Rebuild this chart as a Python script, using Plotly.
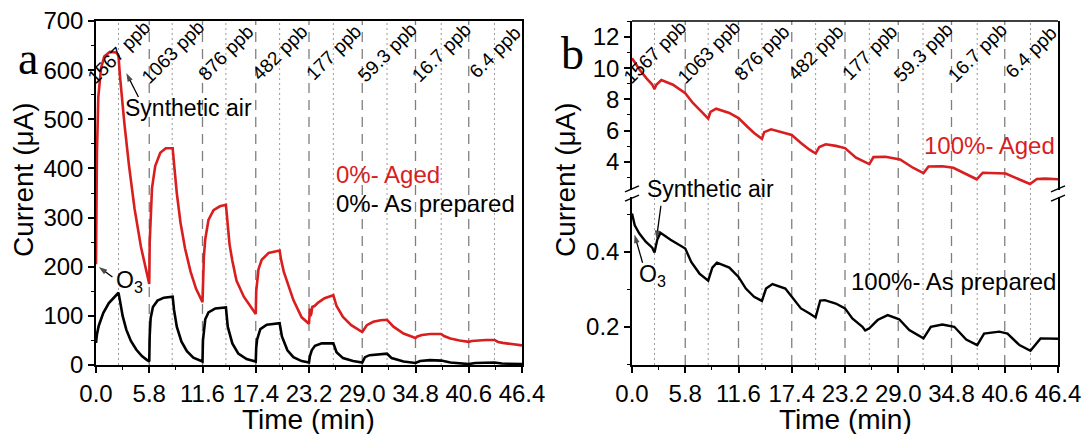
import plotly.graph_objects as go

# ---------------- data ----------------
time_ticks = [0.0, 5.8, 11.6, 17.4, 23.2, 29.0, 34.8, 40.6, 46.4]
o3_on = [5.8, 11.6, 17.4, 23.2, 29.0, 34.8, 40.6]            # dashed lines
air_on = [2.45, 8.3, 14.15, 20.0, 25.85, 31.7, 37.6, 43.4]    # dotted lines
conc_labels = ["1567 ppb", "1063 ppb", "876 ppb", "482 ppb", "177 ppb", "59.3 ppb", "16.7 ppb", "6.4 ppb"]

# panel a, 0% aged (red)
a_aged_t = [0.0, 0.03, 0.1, 0.25, 0.55, 0.9, 1.5, 2.2, 2.45,
            2.6, 2.8, 3.1, 3.6, 4.2, 4.9, 5.4, 5.8,
            5.85, 5.95, 6.1, 6.45, 7.0, 7.6, 8.35,
            8.5, 8.8, 9.2, 9.7, 10.3, 10.9, 11.6,
            11.65, 11.75, 11.9, 12.25, 12.8, 13.5, 14.15,
            14.3, 14.55, 14.85, 15.3, 16.1, 16.8, 17.4,
            17.45, 17.55, 17.7, 18.05, 18.8, 20.0,
            20.15, 20.45, 20.85, 21.5, 22.4, 23.2,
            23.25, 23.3, 23.35, 23.45, 23.55, 23.8, 24.2, 24.9, 25.85,
            26.2, 26.9, 27.8, 29.0,
            29.1, 29.5, 30.2, 31.0, 31.7,
            32.0, 32.4, 33.5, 34.8,
            35.0, 35.5, 36.4, 37.6,
            37.9, 38.6, 39.6, 40.6,
            40.9, 41.5, 42.5, 43.4,
            43.8, 44.3, 45.0, 45.8, 46.4]
a_aged_i = [205, 300, 430, 545, 604, 628, 637, 636, 630,
            590, 545, 490, 405, 318, 240, 196, 165,
            250, 305, 360, 405, 432, 441, 441,
            410, 350, 290, 237, 190, 155, 128,
            180, 220, 256, 295, 315, 323, 326,
            290, 245, 212, 172, 139, 119, 104,
            150, 175, 195, 214, 228, 233,
            215, 190, 166, 132, 97, 84,
            100, 115, 100, 104, 118, 120, 127, 136, 142,
            120, 98, 81, 67,
            70, 81, 88, 91, 92,
            85, 78, 64, 55,
            58, 61, 63, 63,
            59, 54, 50, 47,
            49, 50, 51, 51,
            47, 45, 43, 41, 40]

# panel a, 0% as prepared (black)
a_prep_t = [0.0, 0.1, 0.3, 0.8, 1.4, 2.0, 2.45,
            2.6, 2.9, 3.3, 3.8, 4.4, 5.0, 5.5, 5.8,
            5.85, 5.95, 6.2, 6.7, 7.4, 8.35,
            8.5, 8.8, 9.3, 9.9, 10.6, 11.6,
            11.65, 11.75, 11.9, 12.25, 13.0, 14.15,
            14.35, 14.85, 15.5, 16.4, 17.4,
            17.45, 17.55, 17.9, 18.6, 20.0,
            20.25, 20.85, 21.5, 22.4, 23.2,
            23.3, 23.5, 23.85, 24.6, 25.85,
            26.2, 26.9, 28.0, 29.0,
            29.3, 29.8, 30.8, 31.7,
            32.2, 33.5, 34.8,
            35.3, 36.4, 37.6,
            38.6, 40.6,
            41.3, 43.4,
            44.2, 46.4]
a_prep_i = [45, 62, 80, 106, 126, 139, 147,
            132, 100, 72, 49, 31, 18, 11, 7,
            60, 95, 118, 131, 137, 139,
            112, 78, 48, 28, 15, 7,
            50, 72, 93, 107, 115, 117,
            78, 44, 23, 12, 7,
            35, 52, 73, 82, 85,
            58, 30, 16, 8, 5,
            18, 30, 39, 44, 44,
            26, 14, 8, 5,
            16, 20, 22, 23,
            14, 7, 4,
            8, 10, 9,
            5, 2,
            4, 5,
            3, 2]

# panel b, 100% aged (red, upper segment)
b_aged_t = [0.0, 0.4, 0.83, 1.56, 2.2, 2.45, 2.65, 3.2, 4.46, 5.8,
            6.63, 7.54, 8.3, 8.55, 9.17, 10.6, 11.6,
            12.6, 13.3, 14.15, 14.4, 15.15, 16.3, 17.4,
            18.4, 19.3, 20.0, 20.4, 21.1, 22.2, 23.2,
            24.4, 25.85, 26.3, 27.6, 29.2,
            30.6, 31.75, 32.3, 33.8, 35.0,
            36.4, 37.55, 38.2, 40.7,
            42.2, 43.35, 44.1, 45.0, 46.4]
b_aged_i = [10.64, 10.25, 9.9, 9.36, 8.95, 8.66, 8.94, 9.24, 8.94, 8.4,
            7.77, 7.23, 6.77, 7.2, 7.4, 7.13, 6.8,
            6.23, 5.85, 5.47, 5.9, 6.08, 5.92, 5.72,
            5.21, 4.79, 4.53, 4.95, 5.12, 5.02, 4.88,
            4.26, 3.85, 4.3, 4.32, 4.15,
            3.62, 3.28, 3.7, 3.72, 3.62,
            3.2, 2.88, 3.3, 3.25,
            2.87, 2.58, 2.9, 2.92, 2.88]

# panel b, 100% as prepared (black, lower segment)
b_prep_t = [0.0, 0.3, 0.8, 1.5, 2.2, 2.45, 2.75, 3.1, 4.2, 5.8,
            6.45, 7.35, 8.3, 8.75, 9.25, 10.6, 11.6,
            12.4, 13.3, 14.15, 14.6, 15.3, 16.7, 17.4,
            18.4, 19.3, 20.0, 20.5, 21.0, 22.2, 23.2,
            24.0, 25.1, 25.4, 25.85, 26.75, 27.85, 29.1,
            30.2, 31.75, 32.55, 33.8, 35.1,
            36.4, 37.6, 38.35, 40.0, 40.9,
            42.2, 43.4, 44.0, 44.5, 46.4]
b_prep_i = [0.502, 0.471, 0.449, 0.427, 0.411, 0.398, 0.432, 0.451, 0.432, 0.409,
            0.373, 0.342, 0.323, 0.358, 0.371, 0.358, 0.333,
            0.302, 0.28, 0.269, 0.302, 0.314, 0.302, 0.28,
            0.249, 0.236, 0.225, 0.27, 0.271, 0.262, 0.249,
            0.222, 0.2, 0.19, 0.196, 0.218, 0.231, 0.22,
            0.191, 0.169, 0.2, 0.206, 0.2,
            0.166, 0.151, 0.182, 0.187, 0.182,
            0.151, 0.136, 0.155, 0.169, 0.168]

# ---------------- style ----------------
W, H = 1084, 434
ML, MR, MT, MB = 0, 0, 21, 69
PH = H - MT - MB
RED = "#d81e1e"
FONT = "Arial, Liberation Sans, sans-serif"
TICKF = 24
AX_A = [96 / W, 522 / W]
AX_B = [632 / W, 1058 / W]
LOW_DOM = [0.0, 0.488]
UP_DOM = [0.509, 1.0]
LOW_RANGE = [0.098, 0.546]
UP_RANGE = [2.2, 13.02]


def py(pix):
    """paper y for a pixel row"""
    return (H - MB - pix) / PH


def ya(pix):
    """panel a data value for a pixel row"""
    return (H - MB - pix) / PH * 700


def yup(pix):
    """panel b upper-axis value for a pixel row"""
    top, bot = MT, H - MB - UP_DOM[0] * PH
    return UP_RANGE[1] - (pix - top) / (bot - top) * (UP_RANGE[1] - UP_RANGE[0])


fig = go.Figure()
fig.add_trace(go.Scatter(x=a_aged_t, y=a_aged_i, mode="lines", line=dict(color=RED, width=2.6),
                         xaxis="x", yaxis="y", showlegend=False))
fig.add_trace(go.Scatter(x=a_prep_t, y=a_prep_i, mode="lines", line=dict(color="black", width=2.6),
                         xaxis="x", yaxis="y", showlegend=False))
fig.add_trace(go.Scatter(x=b_aged_t, y=b_aged_i, mode="lines", line=dict(color=RED, width=2.6),
                         xaxis="x2", yaxis="y3", showlegend=False))
fig.add_trace(go.Scatter(x=b_prep_t, y=b_prep_i, mode="lines", line=dict(color="black", width=2.4),
                         xaxis="x2", yaxis="y2", showlegend=False))


def arrow(x, y, ax, ay, xa, yax):
    """pointer arrow from (ax, ay) to (x, y)"""
    fig.add_trace(go.Scatter(x=[ax, x], y=[ay, y], mode="lines+markers", xaxis=xa, yaxis=yax,
                             line=dict(color="black", width=1.3), showlegend=False, hoverinfo="skip",
                             cliponaxis=False,
                             marker=dict(symbol="arrow", angleref="previous", size=[0, 9], color="black",
                                         line=dict(width=0))))


arrow(3.3, ya(73), 4.62, ya(97), "x", "y")
arrow(0.3, ya(267), 1.79, ya(277), "x", "y")
arrow(2.66, 0.434, 3.15, 0.523, "x2", "y2")
arrow(0.27, 0.446, 1.15, 0.371, "x2", "y2")

tick_text = ["%.1f" % v for v in time_ticks]
common_x = dict(range=[0, 46.4], tickmode="array", tickvals=time_ticks, ticktext=tick_text,
                showline=True, linecolor="black", linewidth=1.5, ticks="outside", ticklen=6,
                tickwidth=1.5, tickcolor="black", showgrid=False, zeroline=False, automargin=False,
                tickfont=dict(family=FONT, size=TICKF, color="black"),
                minor=dict(ticks="outside", ticklen=3, dtick=2.9, tick0=0, tickcolor="black", tickwidth=1.2))
common_y = dict(showline=True, linecolor="black", linewidth=1.5, ticks="outside", ticklen=6,
                tickwidth=1.5, tickcolor="black", showgrid=False, zeroline=False, automargin=False,
                tickfont=dict(family=FONT, size=TICKF, color="black"))

fig.update_layout(
    width=W, height=H, margin=dict(l=ML, r=MR, t=MT, b=MB, pad=0, autoexpand=False),
    paper_bgcolor="white", plot_bgcolor="white",
    xaxis=dict(domain=AX_A, anchor="y", mirror=True, **common_x),
    yaxis=dict(domain=[0, 1], anchor="x", range=[0, 700], dtick=100, mirror=True,
               minor=dict(ticks="outside", ticklen=3, dtick=50, tickcolor="black", tickwidth=1.2), **common_y),
    xaxis2=dict(domain=AX_B, anchor="y2", **common_x),
    yaxis2=dict(domain=LOW_DOM, anchor="x2", range=LOW_RANGE, tickmode="array", tickvals=[0.2, 0.4],
                ticktext=["0.2", "0.4"], mirror=True,
                minor=dict(ticks="outside", ticklen=3, dtick=0.1, tick0=0, tickcolor="black", tickwidth=1.2), **common_y),
    yaxis3=dict(domain=UP_DOM, anchor="x2", range=UP_RANGE, tickmode="array", tickvals=[4, 6, 8, 10, 12],
                mirror=True,
                minor=dict(ticks="outside", ticklen=3, dtick=1, tick0=0, tickcolor="black", tickwidth=1.2), **common_y),
)

shapes = []
for xr, yr in [("x", "y domain"), ("x2", "paper")]:
    for t in o3_on:
        shapes.append(dict(type="line", xref=xr, yref=yr, x0=t, x1=t, y0=0, y1=1, layer="below",
                           line=dict(color="#7f7f7f", width=1.3, dash="10px,7px")))
    for t in air_on:
        shapes.append(dict(type="line", xref=xr, yref=yr, x0=t, x1=t, y0=0, y1=1, layer="below",
                           line=dict(color="#9a9a9a", width=1, dash="2px,3px")))
# top border of panel b
shapes.append(dict(type="line", xref="x2 domain", yref="paper", x0=0, x1=1, y0=1, y1=1,
                   line=dict(color="black", width=1.5)))
# axis-break marks
for xa in [0, 1]:
    for yc in [LOW_DOM[1] - 0.003, UP_DOM[0] + 0.003]:
        shapes.append(dict(type="line", xref="x2 domain", yref="paper", xsizemode="pixel", ysizemode="pixel",
                           xanchor=xa, yanchor=yc, x0=-7, x1=7, y0=-3, y1=3,
                           line=dict(color="black", width=1.5)))
fig.update_layout(shapes=shapes)

ann = []


def txt(x, y, text, xref="paper", yref="paper", size=22, color="black", xanchor="center",
        yanchor="middle", angle=0, family=FONT, **kw):
    ann.append(dict(x=x, y=y, xref=xref, yref=yref, text=text, showarrow=False, textangle=angle,
                    xanchor=xanchor, yanchor=yanchor, font=dict(family=family, size=size, color=color), **kw))


# concentration labels
for t, lab in zip(air_on, conc_labels):
    txt(t, ya(52), lab, xref="x", yref="y", size=19, angle=-45)
    txt(t, yup(52), lab, xref="x2", yref="y3", size=19, angle=-45)
# panel letters
serif = "Liberation Serif, Times New Roman, serif"
txt(28 / W, py(59), "a", size=46, family=serif)
txt(572 / W, py(53), "b", size=46, family=serif)
# axis titles
for xc in [23, 565]:
    txt(xc / W, py(180), "Current (μA)", size=28, angle=-90)
for dom in [AX_A, AX_B]:
    txt((dom[0] + dom[1]) / 2, py(419), "Time (min)", size=28)
# panel a texts
txt(123 / W, py(108), "Synthetic air", size=23, xanchor="left")
txt(1.96, ya(281), "O<sub>3</sub>", xref="x", yref="y", size=23, xanchor="left")
txt(25.9, ya(174), "0%- Aged", xref="x", yref="y", size=24, color=RED, xanchor="left")
txt(25.9, ya(203), "0%- As prepared", xref="x", yref="y", size=24, xanchor="left")
# panel b texts
txt(31.6, yup(145), "100%- Aged", xref="x2", yref="y3", size=24, color=RED, xanchor="left")
txt(23.6, 0.322, "100%- As prepared", xref="x2", yref="y2", size=24, xanchor="left")
txt(1.45, py(189), "Synthetic air", xref="x2", yref="paper", size=23, xanchor="left")
txt(0.55, 0.336, "O<sub>3</sub>", xref="x2", yref="y2", size=23, xanchor="left")
fig.update_layout(annotations=ann)

fig.write_html("out.html")
